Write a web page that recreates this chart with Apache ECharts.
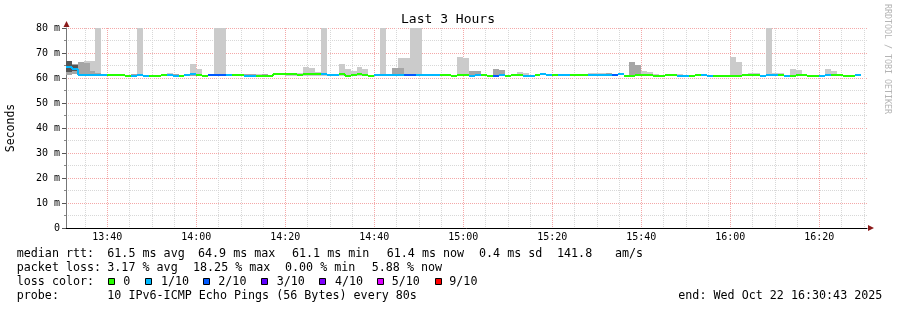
<!DOCTYPE html>
<html><head><meta charset="utf-8">
<script src="https://cdn.jsdelivr.net/npm/echarts@6/dist/echarts.min.js"></script>
<style>html,body{margin:0;padding:0;background:#fff}#c{width:897px;height:310px}</style>
</head><body><div id="c"></div>
<script>
// ================= DATA =================
const titleText = 'Last 3 Hours';
const yAxisName = 'Seconds';
const watermark = 'RRDTOOL / TOBI OETIKER';
const viewStart = '13:30:43';
const viewEnd = '16:30:43';
const firstStepStart = '13:30:40';
const stepSeconds = 80;
const xTickLabels = ['13:40','14:00','14:20','14:40','15:00','15:20','15:40','16:00','16:20'];
const yTickValues = [0,10,20,30,40,50,60,70,80];

// median RTT (ms) per 80 s step
const median = [
  64.5,63.8,61.4,61.4,61.4,61.4,61.4,61.4,61.4,61.4,
  61.0,61.0,61.4,61.0,61.0,61.0,61.4,61.4,61.0,61.0,
  61.2,61.6,61.4,61.0,61.4,61.4,61.4,61.4,61.4,61.4,
  61.0,61.0,61.0,61.0,61.0,61.6,61.6,61.6,61.6,61.4,
  61.6,61.6,61.6,61.6,61.2,61.2,61.6,61.0,61.2,61.6,
  61.4,61.0,61.4,61.4,61.4,61.2,61.4,61.4,61.4,61.4,
  61.4,61.4,61.2,61.2,61.2,60.7,61.2,61.2,61.0,61.4,
  61.4,61.0,61.0,61.4,61.0,61.4,61.4,61.0,61.0,61.4,
  61.8,61.2,61.2,61.4,61.2,61.2,61.2,61.2,61.4,61.4,
  61.4,61.4,61.4,61.6,61.0,61.0,61.2,61.4,61.4,61.0,
  61.0,61.4,61.4,61.0,61.0,61.0,61.4,61.4,61.0,61.0,
  61.0,61.0,61.0,61.0,61.4,61.4,61.4,61.0,61.4,61.4,
  61.4,61.0,61.0,61.4,61.4,61.0,61.0,61.0,61.2,61.4,
  61.4,61.0,61.0,61.4
];
// lost pings out of 10 per step
const lossCount = [
  1,1,1,1,1,1,1,0,0,0,
  0,1,1,1,0,0,0,1,1,0,
  1,1,0,0,2,2,2,1,0,0,
  1,1,0,0,0,0,0,0,0,0,
  0,0,0,1,1,1,0,0,0,0,
  0,0,1,1,1,1,1,2,2,1,
  1,1,1,0,0,0,0,0,1,1,
  0,0,2,1,0,0,0,1,1,0,
  1,1,0,1,1,0,0,0,1,1,
  1,1,2,1,0,0,0,0,0,0,
  0,0,0,1,1,0,0,1,1,0,
  0,0,0,0,0,0,0,1,1,1,
  0,1,0,0,0,0,0,1,1,0,
  0,0,0,1
];
// smoke: outer band (min..max ping)
const smokeSteps = [0,1,2,3,4,5,11,12,16,17,18,21,22,25,26,30,31,32,33,37,38,39,40,41,42,43,46,47,48,49,50,53,54,55,56,57,58,59,66,67,68,69,72,73,76,77,83,88,89,90,91,95,96,97,98,99,103,112,113,115,116,118,119,120,122,123,128,129];
const smokeMin = [61.2,61.6,60.9,60.9,60.9,60.9,60.9,60.9,60.9,60.9,60.9,60.9,60.9,60.9,60.9,60.9,60.9,60.9,60.9,60.9,60.9,60.9,60.9,60.9,60.9,60.9,60.9,60.9,60.9,60.9,60.9,60.9,60.9,60.9,60.9,60.9,60.9,60.9,60.9,60.9,60.9,60.9,60.9,60.9,60.9,60.9,60.9,60.9,60.9,60.9,60.9,60.9,60.9,60.9,60.9,60.9,60.9,60.9,60.9,60.9,60.9,60.9,60.9,60.9,60.9,60.9,60.9,60.9];
const smokeMax = [66.8,65.6,66.5,66.8,66.8,88,61.8,88,61.8,62.0,61.8,65.6,63.6,88,88,61.8,61.8,61.8,61.8,62.0,62.0,62.0,64.5,64.0,62.5,88,65.6,63.6,63.0,64.5,63.6,88,61.8,64.0,68.0,68.0,88,88,68.5,68.0,62.8,62.8,63.6,63.2,62.3,62.0,61.8,62.0,62.0,62.0,62.0,66.4,65.2,62.8,62.4,61.8,61.8,68.5,66.4,62.0,62.0,88,62.0,62.0,63.6,63.2,63.6,62.8];
// smoke: middle band
const midSteps = [0,1,2,3,4,5,11,16,18,21,30,31,33,55,56,66,68,69,72,73,91,95,96];
const midMin = [61.2,61.6,60.9,60.9,60.9,60.9,60.9,60.9,60.9,60.9,60.9,60.9,60.9,60.9,60.9,60.9,60.9,60.9,60.9,60.9,60.9,60.9,60.9];
const midMax = [66.8,65.6,66.5,66.0,62.9,62.0,61.8,61.8,61.8,62.0,61.8,61.8,61.8,64.0,64.0,61.8,62.8,62.8,63.6,63.2,62.0,66.4,65.2];
// smoke: inner band
const darkSteps = [0,1,16];
const darkMin = [62.6,62.8,61.0];
const darkMax = [66.8,65.3,61.8];

const lossLevels = [0,1,2,3,4,5,9];
const lossLabels = ['0','1/10','2/10','3/10','4/10','5/10','9/10'];
const lossColors = ['#26ff00','#00b8ff','#0059ff','#5e00ff','#7e00ff','#dd00ff','#ff0000'];

const rttStats = ['median rtt:','61.5 ms avg','64.9 ms max','61.1 ms min','61.4 ms now','0.4 ms sd','141.8','am/s'];
const lossStats = ['packet loss:','3.17 % avg','18.25 % max','0.00 % min','5.88 % now'];
const lossColorTitle = 'loss color:';
const probeStats = ['probe:','10 IPv6-ICMP Echo Pings (56 Bytes) every 80s'];
const endText = 'end: Wed Oct 22 16:30:43 2025';

// ================= LAYOUT / STYLE =================
const MONO = '"DejaVu Sans Mono", monospace';
const rttX = [16.7,107.3,198,292,386.7,479,557,615];
const lossX = [16.7,107.3,193,285,371.7];
const boxX = [108.5,145.5,203.5,261.5,319.5,377.5,435.5];
const boxLabelX = [123.3,161,218.3,276.7,335,391.7,449.3];
const rowY = [253.8,267.8,281.8,295.8];
const legendFont = '11.7px ' + MONO;
const MAJOR_GRID = '#f4a8a8';
const MINOR_GRID = '#d8d8d8';

function toMin(s){const p=s.split(':').map(Number);return p[0]*60+p[1]+(p[2]||0)/60;}
function fmt(v){v=Math.round(v);const h=Math.floor(v/60),m=v%60;return (h<10?'0':'')+h+':'+(m<10?'0':'')+m;}
const X_MIN = toMin(viewStart), X_MAX = toMin(viewEnd);
const Y_MIN = yTickValues[0], Y_MAX = yTickValues[yTickValues.length-1];
const T0 = toMin(firstStepStart), STEP = stepSeconds/60;
const majorX = xTickLabels.map(toMin);
const minorX = [];
for (let m = Math.ceil(X_MIN/5)*5; m < X_MAX; m += 5) if (m % 20 !== 0) minorX.push(m);

function colorForLoss(l){let k=0;for(let j=0;j<lossLevels.length;j++) if(l>=lossLevels[j]) k=j;return lossColors[k];}

function bandData(steps, lo, hi){return steps.map((s,k)=>[T0+s*STEP, T0+(s+1)*STEP, lo[k], hi[k]]);}
function rectItem(color){
  return function(params, api){
    const x0=Math.max(api.value(0),X_MIN), x1=Math.min(api.value(1),X_MAX);
    const lo=Math.max(api.value(2),Y_MIN), hi=Math.min(api.value(3),Y_MAX);
    const a=api.coord([x0,hi]), b=api.coord([x1,lo]);
    const xa=Math.round(a[0]), xb=Math.round(b[0]), ya=Math.round(a[1]), yb=Math.round(b[1]);
    return {type:'rect', shape:{x:xa,y:ya,width:xb-xa,height:Math.max(yb-ya,1)}, style:{fill:color}};
  };
}
const medianData = median.map((v,i)=>[T0+i*STEP, T0+(i+1)*STEP, v, lossCount[i], i]);
function medianItem(params, api){
  const i=api.value(4);
  const x0=Math.max(api.value(0),X_MIN), x1=Math.min(api.value(1),X_MAX);
  const v=api.value(2);
  const a=api.coord([x0,v]), b=api.coord([x1,v]);
  const col=colorForLoss(api.value(3));
  const yy=Math.round(a[1]), xa=Math.round(a[0]), xb=Math.round(b[0]);
  const ch=[{type:'line',shape:{x1:xa,y1:yy,x2:xb,y2:yy},style:{stroke:col,lineWidth:2}}];
  if(i>0 && lossCount[i-1]===lossCount[i] && median[i-1]!==median[i]){
    const p=api.coord([x0,median[i-1]]);
    ch.push({type:'line',shape:{x1:xa,y1:Math.round(p[1]),x2:xa,y2:yy},style:{stroke:col,lineWidth:2}});
  }
  return {type:'group',children:ch};
}

const graphics = [];
graphics.push({type:'text',x:448,y:19.5,style:{text:titleText,font:'13px '+MONO,fill:'#000',align:'center',verticalAlign:'middle'}});
graphics.push({type:'text',x:11,y:128,rotation:Math.PI/2,style:{text:yAxisName,font:'11.5px '+MONO,fill:'#000',align:'center',verticalAlign:'middle'}});
graphics.push({type:'text',x:887,y:4,rotation:-Math.PI/2,style:{text:watermark,font:'8.3px '+MONO,fill:'#b4b4b4',align:'left',verticalAlign:'middle'}});
// axis arrows
graphics.push({type:'polygon',shape:{points:[[63.5,27],[69.5,27],[66.5,21]]},style:{fill:'#8b1a1a'}});
graphics.push({type:'polygon',shape:{points:[[868,225],[868,231],[874,228]]},style:{fill:'#8b1a1a'}});
function addText(t,x,y){graphics.push({type:'text',x:x,y:y,style:{text:t,font:legendFont,fill:'#000',align:'left',verticalAlign:'middle'}});}
rttStats.forEach((t,k)=>addText(t,rttX[k],rowY[0]));
lossStats.forEach((t,k)=>addText(t,lossX[k],rowY[1]));
addText(lossColorTitle,16.7,rowY[2]);
lossLabels.forEach((t,k)=>{
  graphics.push({type:'rect',shape:{x:boxX[k],y:278.5,width:6,height:6},style:{fill:lossColors[k],stroke:'#000',lineWidth:1}});
  addText(t,boxLabelX[k],rowY[2]);
});
addText(probeStats[0],16.7,rowY[3]);
addText(probeStats[1],107.3,rowY[3]);
addText(endText,678.3,rowY[3]);

const chart = echarts.init(document.getElementById('c'), null, {renderer:'canvas'});
chart.setOption({
  animation:false,
  backgroundColor:'#fff',
  textStyle:{fontFamily:MONO},
  grid:{left:66,right:30,top:28,bottom:82,containLabel:false,outerBoundsMode:'none'},
  xAxis:[{
    type:'value',min:X_MIN,max:X_MAX,
    axisLine:{show:true,lineStyle:{color:'#000',width:1}},
    axisTick:{show:false,customValues:majorX},
    axisLabel:{customValues:majorX,formatter:fmt,fontFamily:MONO,fontSize:10,color:'#000',margin:9,verticalAlign:'middle'},
    splitLine:{show:true,lineStyle:{color:MAJOR_GRID,type:[1,1],width:1}}
  },{
    type:'value',min:X_MIN,max:X_MAX,position:'top',
    axisLine:{show:false},axisLabel:{show:false},
    axisTick:{show:false,customValues:minorX},
    splitLine:{show:true,lineStyle:{color:MINOR_GRID,type:[1,1],width:1}}
  }],
  yAxis:{
    type:'value',min:Y_MIN,max:Y_MAX,interval:10,
    axisLine:{show:true,lineStyle:{color:'#777',width:1}},
    axisTick:{show:true,length:4,lineStyle:{color:'#555'}},
    minorTick:{show:true,splitNumber:2,length:2,lineStyle:{color:'#888'}},
    axisLabel:{formatter:v=>v===0?'0':v+' m',fontFamily:MONO,fontSize:10,color:'#000',margin:6},
    splitLine:{show:true,lineStyle:{color:MAJOR_GRID,type:[1,1],width:1}},
    minorSplitLine:{show:true,lineStyle:{color:MINOR_GRID,type:[1,1],width:1}}
  },
  series:[
    {type:'custom',name:'smoke outer',clip:true,encode:{x:[0,1],y:[2,3]},data:bandData(smokeSteps,smokeMin,smokeMax),renderItem:rectItem('#cbcbcb'),z:2},
    {type:'custom',name:'smoke mid',clip:true,encode:{x:[0,1],y:[2,3]},data:bandData(midSteps,midMin,midMax),renderItem:rectItem('#a6a6a6'),z:3},
    {type:'custom',name:'smoke inner',clip:true,encode:{x:[0,1],y:[2,3]},data:bandData(darkSteps,darkMin,darkMax),renderItem:rectItem('#555555'),z:4},
    {type:'custom',name:'median',clip:true,encode:{x:[0,1],y:2},data:medianData,renderItem:medianItem,z:5}
  ],
  graphic:graphics
});
</script></body></html>
